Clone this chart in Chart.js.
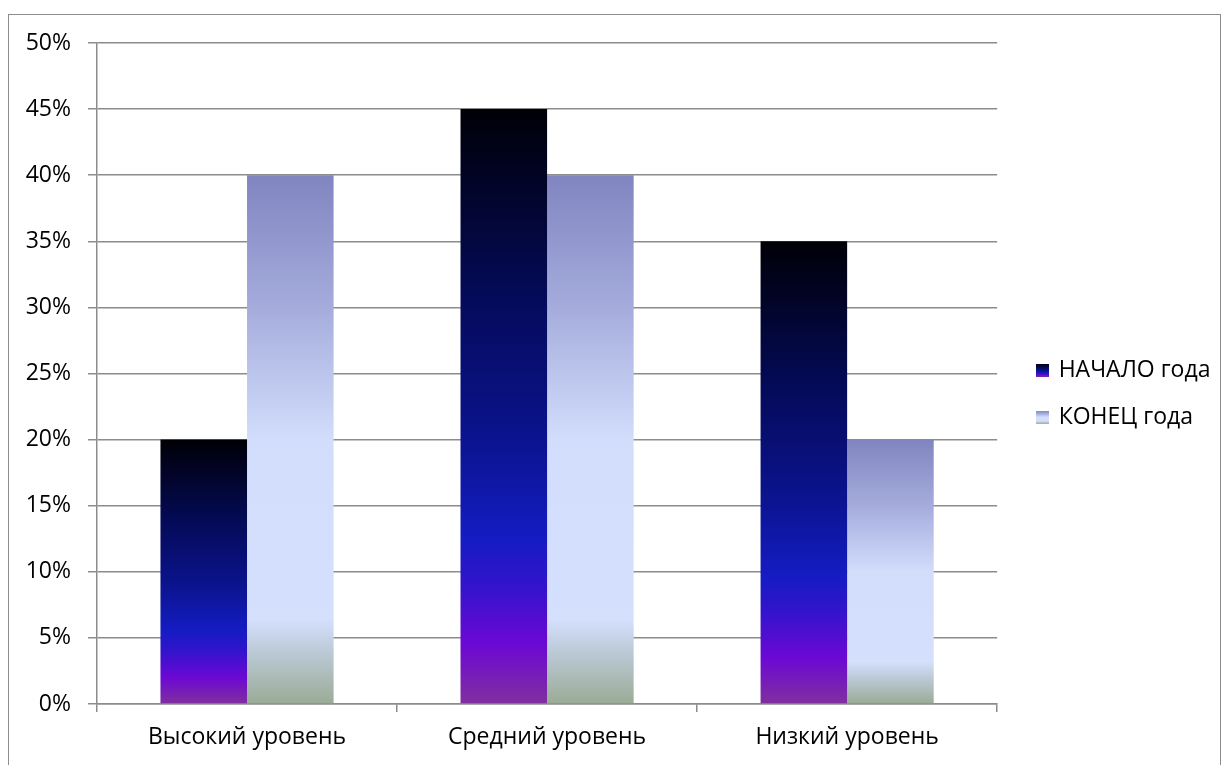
<!DOCTYPE html>
<html>
<head>
<meta charset="utf-8">
<script src="https://cdn.jsdelivr.net/npm/chart.js@4"></script>
<style>
  html, body { margin: 0; padding: 0; background: #fff; overflow: hidden; }
  #wrap { position: relative; width: 1228px; height: 765px; }
  #frame { position: absolute; left: 8px; top: 14px; width: 1213px; height: 800px; border: 1.5px solid #8c8c8c; box-sizing: border-box; }
  #c { position: absolute; left: 0; top: 0; }
</style>
</head>
<body>
<div id="wrap">
  <div id="frame"></div>
  <canvas id="c" width="1228" height="765"></canvas>
</div>
<script>
const categories = ['Высокий уровень', 'Средний уровень', 'Низкий уровень'];
const seriesNames = ['НАЧАЛО года', 'КОНЕЦ года'];
const startValues = [20, 45, 35];
const endValues = [40, 40, 20];
const yTicks = [0, 5, 10, 15, 20, 25, 30, 35, 40, 45, 50];

const darkStops = [[0, '#000006'], [0.3, '#040a55'], [0.55, '#0b138e'], [0.72, '#141cc2'], [0.8, '#3214cc'], [0.9, '#6c08d4'], [1, '#80309e']];
const lightStops = [[0, '#8085c0'], [0.25, '#a5acdc'], [0.5, '#d2ddfc'], [0.84, '#d4e0fc'], [0.9, '#bccad8'], [1, '#9aab96']];

const FONT = '"Open Sans", "Noto Sans", sans-serif';
const FSIZE = 23;
const GRID = '#8c8c8c';

function barGradient(stops) {
  return function (ctx) {
    const chart = ctx.chart;
    if (ctx.type !== 'data' || !chart.scales || !chart.scales.y) return stops[3][1];
    const ys = chart.scales.y;
    const top = ys.getPixelForValue(ctx.raw);
    const bottom = ys.getPixelForValue(0);
    if (!isFinite(top) || !isFinite(bottom) || top === bottom) return stops[3][1];
    const g = chart.ctx.createLinearGradient(0, top, 0, bottom);
    stops.forEach(s => g.addColorStop(s[0], s[1]));
    return g;
  };
}

function swatch(stops) {
  const c = document.createElement('canvas');
  c.width = 13; c.height = 13;
  const x = c.getContext('2d');
  const g = x.createLinearGradient(0, 0, 0, 13);
  stops.forEach(s => g.addColorStop(s[0], s[1]));
  x.fillStyle = g;
  x.fillRect(0, 0, 13, 13);
  return c;
}
const swatches = [swatch(darkStops), swatch(lightStops)];

new Chart(document.getElementById('c'), {
  type: 'bar',
  data: {
    labels: categories,
    datasets: [
      { label: seriesNames[0], data: startValues, backgroundColor: barGradient(darkStops), borderWidth: 0 },
      { label: seriesNames[1], data: endValues, backgroundColor: barGradient(lightStops), borderWidth: 0 }
    ]
  },
  options: {
    responsive: false,
    animation: false,
    devicePixelRatio: 1,
    categoryPercentage: 0.577,
    barPercentage: 1,
    layout: { padding: { top: 43, left: 0, right: 11, bottom: 0 } },
    plugins: {
      tooltip: { enabled: false },
      legend: {
        position: 'right',
        fullSize: false,
        title: { display: true, text: ' ', font: { size: 10, lineHeight: 1.2 }, padding: 14 },
        labels: {
          usePointStyle: true,
          boxWidth: 9,
          boxHeight: 13,
          pointStyleWidth: 9,
          padding: 24,
          color: '#000',
          font: { family: FONT, size: FSIZE },
          generateLabels: (chart) => chart.data.datasets.map((d, i) => ({
            text: d.label, pointStyle: swatches[i], datasetIndex: i,
            fillStyle: 'transparent', strokeStyle: 'transparent', lineWidth: 0, hidden: false, fontColor: '#000'
          }))
        }
      }
    },
    scales: {
      x: {
        grid: { display: true, drawOnChartArea: false, drawTicks: true, tickLength: 8, color: GRID, lineWidth: 1.5, offset: true },
        border: { display: true, color: GRID, width: 1.5 },
        ticks: { color: '#000', font: { family: FONT, size: FSIZE }, padding: 12 },
        afterFit: s => { s.height = 61; }
      },
      y: {
        min: 0, max: 50,
        afterBuildTicks: s => { s.ticks = yTicks.map(v => ({ value: v })); },
        grid: { color: GRID, lineWidth: 1.5, drawTicks: true, tickLength: 9 },
        border: { display: true, color: GRID, width: 1.5 },
        ticks: { color: '#000', font: { family: FONT, size: FSIZE }, padding: 17, callback: v => v + '%' },
        afterFit: s => { s.width = 97; }
      },
      gap: {
        type: 'linear', position: 'right', display: true,
        grid: { display: false }, border: { display: false }, ticks: { display: false },
        afterFit: s => { s.width = 17; }
      }
    }
  }
});
</script>
</body>
</html>
